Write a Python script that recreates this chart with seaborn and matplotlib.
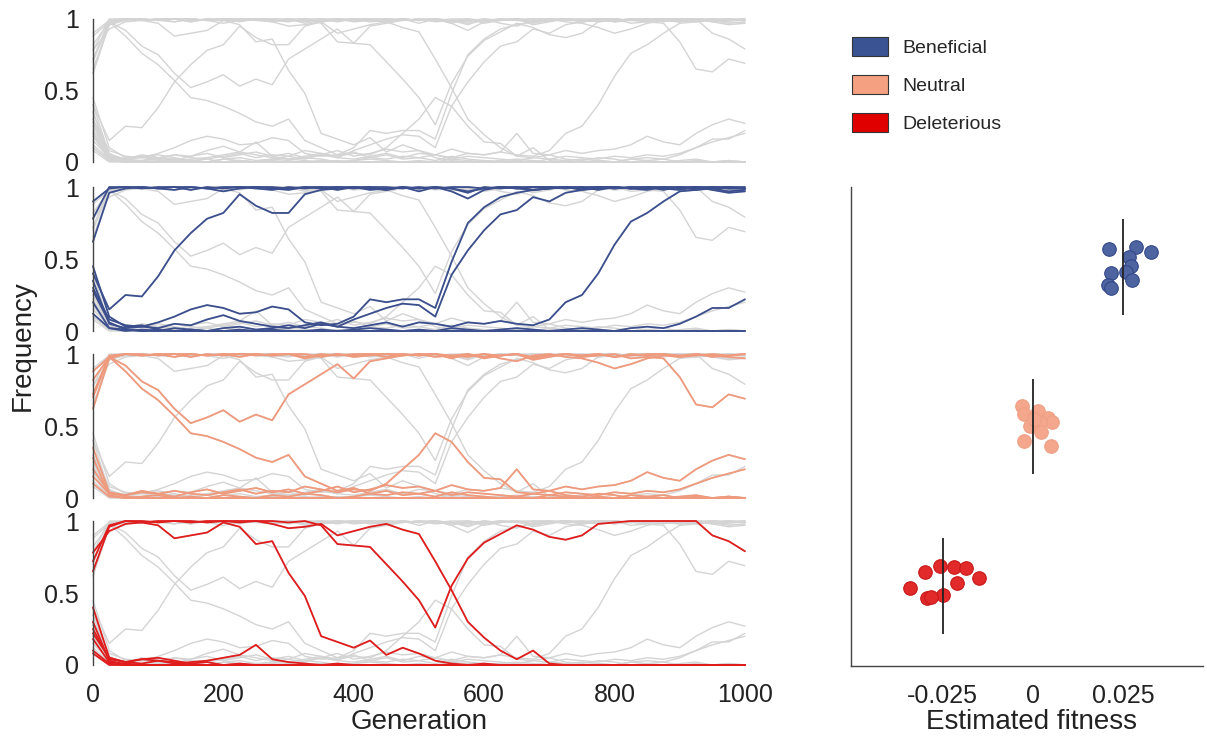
import pandas as pd
import matplotlib.pyplot as plt
from matplotlib.patches import Patch
import seaborn as sns

# generations sampled every 25
generations = list(range(0, 1001, 25))

# Beneficial trajectories
ben_1 = [0.62, 0.96, 0.99, 1.00, 0.99, 1.00, 0.98, 1.00, 0.99, 1.00,
         0.99, 0.98, 1.00, 0.99, 1.00, 1.00, 0.99, 1.00, 0.98, 1.00,
         0.99, 1.00, 0.97, 0.92, 0.98, 1.00, 0.99, 1.00, 1.00, 0.99,
         1.00, 0.98, 1.00, 0.99, 1.00, 0.99, 0.98, 1.00, 0.99, 0.97,
         0.98]
ben_2 = [0.78, 1.00, 1.00, 0.99, 1.00, 1.00, 1.00, 0.99, 1.00, 1.00,
         1.00, 1.00, 0.99, 1.00, 1.00, 0.98, 1.00, 1.00, 1.00, 0.99,
         1.00, 0.99, 1.00, 1.00, 0.99, 1.00, 1.00, 1.00, 1.00, 1.00,
         1.00, 1.00, 0.99, 1.00, 1.00, 1.00, 0.99, 1.00, 1.00, 0.99,
         0.99]
ben_3 = [0.90, 0.99, 1.00, 1.00, 0.99, 0.98, 1.00, 0.99, 0.97, 0.99,
         1.00, 0.99, 0.98, 1.00, 0.99, 1.00, 1.00, 0.98, 0.99, 1.00,
         0.97, 1.00, 0.99, 0.97, 0.99, 1.00, 0.99, 0.98, 0.99, 1.00,
         0.99, 1.00, 1.00, 0.99, 0.98, 1.00, 0.99, 1.00, 0.98, 0.96,
         0.97]
ben_4 = [0.40, 0.15, 0.25, 0.24, 0.38, 0.56, 0.68, 0.78, 0.82, 0.95,
         0.87, 0.82, 0.82, 0.95, 0.98, 0.99, 1.00, 0.99, 0.98, 1.00,
         0.99, 1.00, 0.99, 0.96, 1.00, 0.99, 1.00, 0.98, 0.99, 1.00,
         0.98, 1.00, 0.99, 1.00, 0.99, 1.00, 1.00, 0.98, 1.00, 0.99,
         0.99]
ben_5 = [0.30, 0.08, 0.04, 0.03, 0.06, 0.10, 0.15, 0.18, 0.16, 0.12,
         0.13, 0.17, 0.15, 0.06, 0.04, 0.05, 0.10, 0.22, 0.20, 0.22,
         0.22, 0.16, 0.48, 0.75, 0.86, 0.93, 0.96, 0.98, 0.99, 1.00,
         0.99, 1.00, 1.00, 0.99, 1.00, 0.98, 1.00, 0.99, 1.00, 1.00,
         0.99]
ben_6 = [0.35, 0.05, 0.02, 0.03, 0.02, 0.05, 0.04, 0.08, 0.11, 0.07,
         0.05, 0.03, 0.02, 0.04, 0.06, 0.03, 0.08, 0.12, 0.16, 0.19,
         0.18, 0.10, 0.39, 0.56, 0.70, 0.81, 0.84, 0.93, 0.90, 0.96,
         0.98, 0.99, 1.00, 0.99, 1.00, 0.99, 1.00, 1.00, 0.99, 1.00,
         1.00]
ben_7 = [0.20, 0.02, 0.00, 0.01, 0.00, 0.02, 0.01, 0.00, 0.02, 0.03,
         0.01, 0.02, 0.04, 0.02, 0.05, 0.03, 0.02, 0.04, 0.06, 0.03,
         0.06, 0.05, 0.03, 0.06, 0.05, 0.07, 0.05, 0.04, 0.08, 0.20,
         0.25, 0.40, 0.60, 0.76, 0.82, 0.90, 0.97, 0.98, 0.99, 1.00,
         0.99]
ben_8 = [0.12, 0.02, 0.01, 0.00, 0.01, 0.00, 0.01, 0.00, 0.00, 0.01,
         0.00, 0.01, 0.00, 0.00, 0.01, 0.00, 0.01, 0.02, 0.01, 0.00,
         0.01, 0.00, 0.02, 0.01, 0.00, 0.01, 0.02, 0.01, 0.00, 0.01,
         0.02, 0.01, 0.00, 0.02, 0.03, 0.02, 0.05, 0.10, 0.16, 0.16,
         0.22]
ben_9 = [0.28, 0.06, 0.01, 0.00, 0.00, 0.00, 0.00, 0.00, 0.00, 0.00,
         0.00, 0.00, 0.00, 0.00, 0.00, 0.00, 0.00, 0.00, 0.00, 0.00,
         0.00, 0.00, 0.00, 0.00, 0.00, 0.00, 0.00, 0.00, 0.00, 0.00,
         0.00, 0.00, 0.00, 0.00, 0.00, 0.00, 0.00, 0.00, 0.00, 0.00,
         0.00]
ben_10 = [0.45, 0.10, 0.03, 0.04, 0.01, 0.00, 0.00, 0.00, 0.00, 0.00,
          0.00, 0.00, 0.00, 0.00, 0.00, 0.00, 0.00, 0.00, 0.00, 0.00,
          0.00, 0.00, 0.00, 0.00, 0.00, 0.00, 0.00, 0.00, 0.00, 0.00,
          0.00, 0.00, 0.00, 0.00, 0.00, 0.00, 0.00, 0.00, 0.00, 0.00,
          0.00]

# Neutral trajectories
neu_1 = [0.72, 0.99, 1.00, 0.99, 1.00, 1.00, 0.98, 1.00, 0.99, 1.00,
         1.00, 0.99, 1.00, 1.00, 0.98, 1.00, 0.99, 1.00, 1.00, 0.99,
         1.00, 1.00, 0.99, 0.98, 1.00, 0.99, 1.00, 0.97, 0.99, 1.00,
         0.99, 1.00, 0.98, 0.99, 1.00, 1.00, 0.99, 1.00, 0.98, 0.99,
         1.00]
neu_2 = [0.62, 0.97, 1.00, 1.00, 0.99, 1.00, 1.00, 0.99, 1.00, 0.98,
         1.00, 0.99, 1.00, 0.97, 0.99, 1.00, 0.98, 0.99, 1.00, 1.00,
         0.99, 1.00, 0.98, 0.99, 1.00, 0.97, 0.95, 0.99, 1.00, 0.98,
         0.97, 0.94, 0.90, 0.93, 0.97, 0.99, 0.98, 1.00, 0.99, 0.98,
         0.97]
neu_3 = [0.82, 0.98, 0.92, 0.81, 0.75, 0.62, 0.52, 0.56, 0.61, 0.53,
         0.58, 0.54, 0.72, 0.79, 0.86, 0.93, 0.83, 0.95, 0.97, 0.99,
         1.00, 0.98, 0.99, 1.00, 0.97, 0.99, 1.00, 0.98, 0.99, 1.00,
         0.99, 1.00, 0.98, 1.00, 0.99, 1.00, 0.98, 0.99, 1.00, 0.99,
         1.00]
neu_4 = [0.88, 0.98, 0.88, 0.76, 0.68, 0.57, 0.45, 0.43, 0.39, 0.34,
         0.28, 0.25, 0.30, 0.15, 0.10, 0.05, 0.07, 0.03, 0.05, 0.02,
         0.03, 0.01, 0.04, 0.02, 0.01, 0.00, 0.01, 0.00, 0.02, 0.01,
         0.00, 0.01, 0.00, 0.02, 0.01, 0.00, 0.01, 0.02, 0.00, 0.01,
         0.00]
neu_5 = [0.15, 0.03, 0.02, 0.04, 0.03, 0.05, 0.03, 0.02, 0.04, 0.06,
         0.03, 0.05, 0.04, 0.08, 0.06, 0.04, 0.06, 0.05, 0.10, 0.20,
         0.30, 0.45, 0.39, 0.25, 0.14, 0.13, 0.04, 0.03, 0.05, 0.02,
         0.01, 0.03, 0.02, 0.00, 0.01, 0.02, 0.00, 0.01, 0.00, 0.01,
         0.00]
neu_6 = [0.20, 0.04, 0.02, 0.05, 0.03, 0.01, 0.04, 0.06, 0.03, 0.05,
         0.07, 0.04, 0.06, 0.03, 0.05, 0.08, 0.04, 0.06, 0.09, 0.07,
         0.08, 0.05, 0.09, 0.06, 0.05, 0.07, 0.20, 0.06, 0.05, 0.08,
         0.06, 0.08, 0.09, 0.12, 0.18, 0.14, 0.12, 0.20, 0.26, 0.30,
         0.27]
neu_7 = [0.10, 0.01, 0.00, 0.01, 0.02, 0.00, 0.01, 0.00, 0.02, 0.01,
         0.00, 0.02, 0.01, 0.03, 0.02, 0.00, 0.01, 0.03, 0.02, 0.04,
         0.03, 0.05, 0.02, 0.04, 0.03, 0.02, 0.01, 0.03, 0.02, 0.04,
         0.03, 0.02, 0.04, 0.03, 0.05, 0.04, 0.06, 0.10, 0.14, 0.17,
         0.20]
neu_8 = [0.70, 0.98, 1.00, 0.99, 1.00, 0.98, 1.00, 0.99, 1.00, 1.00,
         0.99, 1.00, 1.00, 0.98, 1.00, 0.99, 1.00, 1.00, 0.98, 1.00,
         0.99, 1.00, 0.97, 1.00, 0.98, 0.99, 1.00, 0.96, 0.98, 1.00,
         0.98, 0.99, 1.00, 0.97, 0.98, 0.97, 0.84, 0.65, 0.63, 0.72,
         0.69]
neu_9 = [0.35, 0.04, 0.01, 0.00, 0.00, 0.00, 0.00, 0.00, 0.00, 0.00,
         0.00, 0.00, 0.00, 0.00, 0.00, 0.00, 0.00, 0.00, 0.00, 0.00,
         0.00, 0.00, 0.00, 0.00, 0.00, 0.00, 0.00, 0.00, 0.00, 0.00,
         0.00, 0.00, 0.00, 0.00, 0.00, 0.00, 0.00, 0.00, 0.00, 0.00,
         0.00]
neu_10 = [0.28, 0.02, 0.00, 0.00, 0.00, 0.00, 0.00, 0.00, 0.00, 0.00,
          0.00, 0.00, 0.00, 0.00, 0.00, 0.00, 0.00, 0.00, 0.00, 0.00,
          0.00, 0.00, 0.00, 0.00, 0.00, 0.00, 0.00, 0.00, 0.00, 0.00,
          0.00, 0.00, 0.00, 0.00, 0.00, 0.00, 0.00, 0.00, 0.00, 0.00,
          0.00]

# Deleterious trajectories
del_1 = [0.78, 0.93, 0.98, 0.99, 0.97, 0.88, 0.90, 0.92, 0.99, 0.96,
         0.84, 0.86, 0.64, 0.48, 0.20, 0.16, 0.12, 0.17, 0.07, 0.12,
         0.08, 0.03, 0.01, 0.00, 0.01, 0.00, 0.00, 0.00, 0.00, 0.00,
         0.00, 0.00, 0.00, 0.00, 0.00, 0.00, 0.00, 0.00, 0.00, 0.00,
         0.00]
del_2 = [0.72, 0.97, 1.00, 1.00, 0.99, 1.00, 1.00, 0.99, 1.00, 1.00,
         1.00, 1.00, 0.99, 1.00, 0.97, 0.84, 0.83, 0.82, 0.70, 0.58,
         0.45, 0.26, 0.55, 0.74, 0.85, 0.91, 0.97, 0.94, 0.89, 0.87,
         0.90, 0.98, 0.99, 1.00, 1.00, 1.00, 1.00, 1.00, 0.90, 0.86,
         0.79]
del_3 = [0.65, 0.96, 1.00, 0.99, 1.00, 1.00, 0.99, 1.00, 1.00, 0.99,
         1.00, 0.98, 0.95, 0.96, 0.98, 0.90, 0.93, 0.96, 0.98, 0.94,
         0.91, 0.72, 0.52, 0.30, 0.19, 0.10, 0.04, 0.10, 0.01, 0.00,
         0.00, 0.00, 0.00, 0.00, 0.00, 0.00, 0.00, 0.00, 0.00, 0.00,
         0.00]
del_4 = [0.40, 0.05, 0.02, 0.04, 0.03, 0.01, 0.02, 0.03, 0.05, 0.07,
         0.14, 0.04, 0.02, 0.01, 0.00, 0.01, 0.00, 0.00, 0.00, 0.00,
         0.00, 0.00, 0.00, 0.00, 0.00, 0.00, 0.00, 0.00, 0.00, 0.00,
         0.00, 0.00, 0.00, 0.00, 0.00, 0.00, 0.00, 0.00, 0.00, 0.00,
         0.00]
del_5 = [0.25, 0.04, 0.02, 0.04, 0.05, 0.03, 0.01, 0.02, 0.00, 0.01,
         0.00, 0.00, 0.00, 0.00, 0.00, 0.00, 0.00, 0.00, 0.00, 0.00,
         0.00, 0.00, 0.00, 0.00, 0.00, 0.00, 0.00, 0.00, 0.00, 0.00,
         0.00, 0.00, 0.00, 0.00, 0.00, 0.00, 0.00, 0.00, 0.00, 0.00,
         0.00]
del_6 = [0.30, 0.03, 0.00, 0.00, 0.00, 0.00, 0.00, 0.00, 0.00, 0.00,
         0.00, 0.00, 0.00, 0.00, 0.00, 0.00, 0.00, 0.00, 0.00, 0.00,
         0.00, 0.00, 0.00, 0.00, 0.00, 0.00, 0.00, 0.00, 0.00, 0.00,
         0.00, 0.00, 0.00, 0.00, 0.00, 0.00, 0.00, 0.00, 0.00, 0.00,
         0.00]
del_7 = [0.18, 0.02, 0.01, 0.00, 0.00, 0.00, 0.00, 0.00, 0.00, 0.00,
         0.00, 0.00, 0.00, 0.00, 0.00, 0.00, 0.00, 0.00, 0.00, 0.00,
         0.00, 0.00, 0.00, 0.00, 0.00, 0.00, 0.00, 0.00, 0.00, 0.00,
         0.00, 0.00, 0.00, 0.00, 0.00, 0.00, 0.00, 0.00, 0.00, 0.00,
         0.00]
del_8 = [0.10, 0.01, 0.00, 0.00, 0.00, 0.00, 0.00, 0.00, 0.00, 0.00,
         0.00, 0.00, 0.00, 0.00, 0.00, 0.00, 0.00, 0.00, 0.00, 0.00,
         0.00, 0.00, 0.00, 0.00, 0.00, 0.00, 0.00, 0.00, 0.00, 0.00,
         0.00, 0.00, 0.00, 0.00, 0.00, 0.00, 0.00, 0.00, 0.00, 0.00,
         0.00]
del_9 = [0.22, 0.05, 0.02, 0.01, 0.03, 0.02, 0.00, 0.00, 0.00, 0.00,
         0.00, 0.00, 0.00, 0.00, 0.00, 0.00, 0.00, 0.00, 0.00, 0.00,
         0.00, 0.00, 0.00, 0.00, 0.00, 0.00, 0.00, 0.00, 0.00, 0.00,
         0.00, 0.00, 0.00, 0.00, 0.00, 0.00, 0.00, 0.00, 0.00, 0.00,
         0.00]
del_10 = [0.08, 0.00, 0.00, 0.00, 0.00, 0.00, 0.00, 0.00, 0.00, 0.00,
          0.00, 0.00, 0.00, 0.00, 0.00, 0.00, 0.00, 0.00, 0.00, 0.00,
          0.00, 0.00, 0.00, 0.00, 0.00, 0.00, 0.00, 0.00, 0.00, 0.00,
          0.00, 0.00, 0.00, 0.00, 0.00, 0.00, 0.00, 0.00, 0.00, 0.00,
          0.00]

# estimated fitness of each allele and vertical jitter of the dots
fit_beneficial = [0.0211, 0.0285, 0.0325, 0.0265, 0.0270, 0.0215, 0.0257, 0.0275, 0.0206, 0.0217]
jit_beneficial = [0.114, 0.126, 0.093, 0.063, 0.006, -0.036, -0.030, -0.081, -0.114, -0.135]
fit_neutral = [-0.0031, -0.0024, 0.0015, 0.0041, 0.0052, -0.0008, 0.0019, 0.0022, -0.0024, 0.0049, 0.0004]
jit_neutral = [0.126, 0.081, 0.099, 0.054, 0.030, 0.006, 0.027, -0.036, -0.093, -0.123, 0.048]
fit_deleterious = [-0.0340, -0.0298, -0.0257, -0.0218, -0.0186, -0.0149, -0.0211, -0.0249, -0.0292, -0.0282]
jit_deleterious = [-0.009, 0.090, 0.129, 0.123, 0.114, 0.054, 0.021, -0.054, -0.075, -0.069]

group_names = ['Beneficial', 'Neutral', 'Deleterious']
true_fitness = [0.025, 0.0, -0.025]
group_level = [2, 1, 0]

line_colors = {'Beneficial': '#3b4f8e', 'Neutral': '#f09a7d', 'Deleterious': '#e01c1c'}
dot_colors = {'Beneficial': '#4d64a0', 'Neutral': '#f4a78c', 'Deleterious': '#e22a2a'}
dot_edges = {'Beneficial': '#33478a', 'Neutral': '#eea084', 'Deleterious': '#c81818'}
legend_colors = {'Beneficial': '#3a5392', 'Neutral': '#f4a081', 'Deleterious': '#e00000'}
grey = '#d4d4d4'

trajectories = {
    'Beneficial': [ben_1, ben_2, ben_3, ben_4, ben_5, ben_6, ben_7, ben_8, ben_9, ben_10],
    'Neutral': [neu_1, neu_2, neu_3, neu_4, neu_5, neu_6, neu_7, neu_8, neu_9, neu_10],
    'Deleterious': [del_1, del_2, del_3, del_4, del_5, del_6, del_7, del_8, del_9, del_10],
}

rows = []
for g, trajs in trajectories.items():
    for k, t in enumerate(trajs):
        assert len(t) == len(generations), (g, k, len(t))
        for gen, f in zip(generations, t):
            rows.append((g, f'{g}_{k}', gen, f))
traj_df = pd.DataFrame(rows, columns=['group', 'traj', 'generation', 'frequency'])

fit_rows = []
for g, lev, fits, jits in zip(group_names, group_level,
                              [fit_beneficial, fit_neutral, fit_deleterious],
                              [jit_beneficial, jit_neutral, jit_deleterious]):
    for f, j in zip(fits, jits):
        fit_rows.append((g, f, lev + j))
fit_df = pd.DataFrame(fit_rows, columns=['group', 'fitness', 'ypos'])

sns.set_style('white')
plt.rcParams['font.family'] = ['Liberation Sans', 'DejaVu Sans']

fig = plt.figure(figsize=(12.07, 7.44), dpi=100)

panel_boxes = [(0.0770, 0.7823, 0.5402, 0.1922),
               (0.0770, 0.5551, 0.5402, 0.1935),
               (0.0770, 0.3306, 0.5402, 0.1935),
               (0.0770, 0.1062, 0.5402, 0.1935)]
highlight = [None, 'Beneficial', 'Neutral', 'Deleterious']

for i, (box, hl) in enumerate(zip(panel_boxes, highlight)):
    ax = fig.add_axes(box)
    sns.lineplot(data=traj_df, x='generation', y='frequency', units='traj',
                 estimator=None, color=grey, lw=1.0, ax=ax, legend=False)
    if hl is not None:
        sns.lineplot(data=traj_df[traj_df['group'] == hl], x='generation', y='frequency',
                     units='traj', estimator=None, color=line_colors[hl], lw=1.3,
                     ax=ax, legend=False)
    for ln in ax.get_lines():
        ln.set_clip_on(False)
    ax.set_xlim(0, 1000)
    ax.set_ylim(0, 1)
    ax.set_yticks([0, 0.5, 1])
    ax.set_yticklabels(['0', '0.5', '1'])
    ax.set_xticks([0, 200, 400, 600, 800, 1000])
    if i < 3:
        ax.set_xticklabels([])
    ax.set_xlabel('')
    ax.set_ylabel('')
    for s in ['top', 'right', 'bottom']:
        ax.spines[s].set_visible(False)
    ax.spines['left'].set_color('#444444')
    ax.spines['left'].set_linewidth(1.0)
    ax.tick_params(direction='in', length=7, width=1.0, color='#555555',
                   labelsize=18, labelcolor='#222222', pad=10)
    ax.tick_params(axis='x', pad=13)

# right panel: estimated fitness
axr = fig.add_axes((0.7051, 0.1048, 0.2916, 0.6438))
for g in group_names:
    sns.scatterplot(data=fit_df[fit_df['group'] == g], x='fitness', y='ypos',
                    color=dot_colors[g], edgecolor=dot_edges[g], linewidth=0.8,
                    s=95, ax=axr, legend=False, zorder=2)
axr.vlines(true_fitness, [v - 0.3 for v in group_level], [v + 0.3 for v in group_level],
           color='#222222', lw=1.3, zorder=3)
axr.set_xlim(-0.0503, 0.047)
axr.set_ylim(-0.5, 2.5)
axr.set_xticks([-0.025, 0, 0.025])
axr.set_xticklabels(['-0.025', '0', '0.025'])
axr.set_yticks([])
axr.set_xlabel('')
axr.set_ylabel('')
for s in ['top', 'right']:
    axr.spines[s].set_visible(False)
for s in ['left', 'bottom']:
    axr.spines[s].set_color('#444444')
    axr.spines[s].set_linewidth(1.0)
axr.tick_params(axis='x', direction='in', length=7, width=1.0, color='#555555',
                labelsize=18, labelcolor='#222222', pad=13)

fig.text(0.019, 0.536, 'Frequency', rotation=90, ha='center', va='center',
         fontsize=20, color='#222222')
fig.text(0.347, 0.029, 'Generation', ha='center', va='center', fontsize=20, color='#222222')
fig.text(0.855, 0.029, 'Estimated fitness', ha='center', va='center', fontsize=20, color='#222222')

handles = [Patch(facecolor=legend_colors[g], edgecolor='#333333', linewidth=0.8, label=g)
           for g in group_names]
fig.legend(handles=handles, loc='upper left', bbox_to_anchor=(0.7055, 0.950),
           frameon=False, borderpad=0, borderaxespad=0, handlelength=1.9,
           handleheight=1.1, labelspacing=0.92, handletextpad=0.7,
           prop={'family': ['Liberation Sans', 'DejaVu Sans'], 'size': 14})

fig.savefig('out.png', dpi=100)
